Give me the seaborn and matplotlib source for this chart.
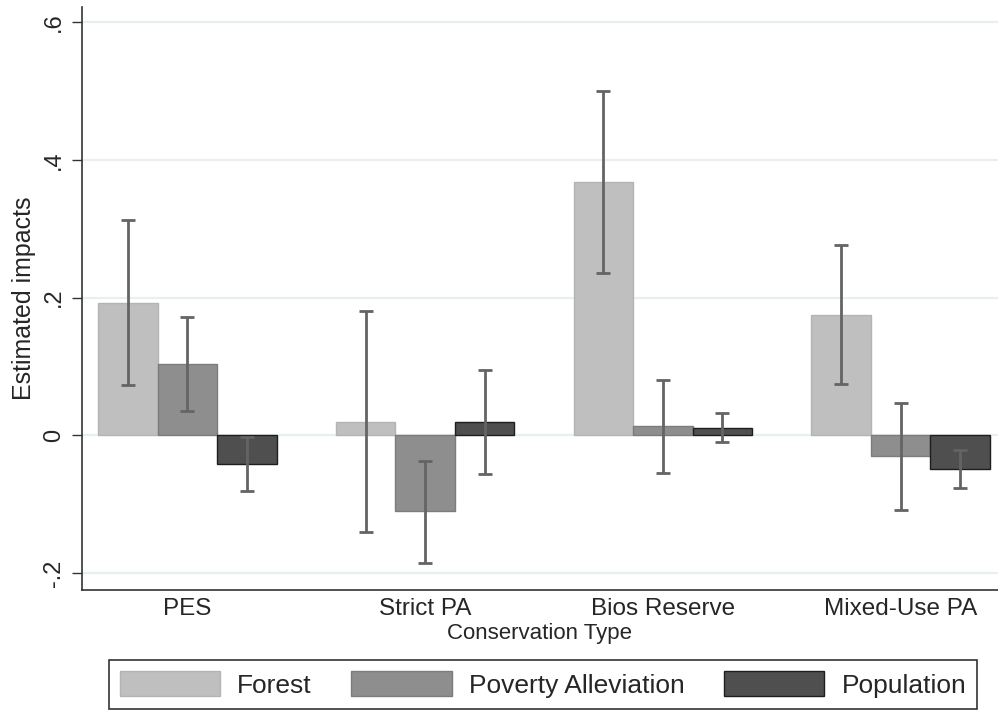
import numpy as np
import pandas as pd
import matplotlib
matplotlib.use("Agg")
import matplotlib.pyplot as plt
import seaborn as sns
from matplotlib.patches import Patch

# ---- data ----
categories = ["PES", "Strict PA", "Bios Reserve", "Mixed-Use PA"]
series = ["Forest", "Poverty Alleviation", "Population"]

forest = [0.192, 0.019, 0.368, 0.175]
forest_lo = [0.073, -0.141, 0.236, 0.075]
forest_hi = [0.312, 0.180, 0.500, 0.276]

poverty = [0.103, -0.110, 0.013, -0.030]
poverty_lo = [0.035, -0.185, -0.055, -0.108]
poverty_hi = [0.171, -0.037, 0.080, 0.047]

population = [-0.042, 0.019, 0.011, -0.049]
population_lo = [-0.081, -0.056, -0.010, -0.077]
population_hi = [-0.003, 0.095, 0.033, -0.022]

yticks = [-0.2, 0, 0.2, 0.4, 0.6]
ytick_labels = ["-.2", "0", ".2", ".4", ".6"]

# ---- build table ----
values = {"Forest": forest, "Poverty Alleviation": poverty, "Population": population}
lows = {"Forest": forest_lo, "Poverty Alleviation": poverty_lo, "Population": population_lo}
highs = {"Forest": forest_hi, "Poverty Alleviation": poverty_hi, "Population": population_hi}
rows = []
for s in series:
    for c, v in zip(categories, values[s]):
        rows.append({"Conservation Type": c, "series": s, "value": v})
df = pd.DataFrame(rows)

fills = {"Forest": "#bfbfbf", "Poverty Alleviation": "#8e8e8e", "Population": "#4f4f4f"}
edges = {"Forest": "#b4b4b4", "Poverty Alleviation": "#7c7c7c", "Population": "#1e1e1e"}
err_color = "#646464"

sns.set_theme(style="white")
plt.rcParams["font.family"] = ["Liberation Sans", "DejaVu Sans"]

fig = plt.figure(figsize=(9.98, 7.10), dpi=100)
ax = fig.add_axes([81.7 / 998, 1 - 590 / 710, (998 - 81.7) / 998, (590 - 7) / 710])

sns.barplot(data=df, x="Conservation Type", y="value", hue="series",
            order=categories, hue_order=series, palette=fills,
            errorbar=None, width=0.75, gap=0, saturation=1,
            legend=False, ax=ax, zorder=2)

for cont, s in zip(ax.containers, series):
    xs = []
    for bar in cont:
        bar.set_edgecolor(edges[s])
        bar.set_linewidth(1.0)
        xs.append(bar.get_x() + bar.get_width() / 2)
    v = np.array(values[s])
    lo = np.array(lows[s])
    hi = np.array(highs[s])
    ax.errorbar(xs, v, yerr=[v - lo, hi - v], fmt="none", ecolor=err_color,
                elinewidth=2.0, capsize=5.2, capthick=2.0, zorder=3)

ax.set_xlim(-0.445, 3.41)
ax.set_ylim(-0.2245, 0.6216)
ax.set_yticks(yticks)
ax.set_yticklabels(ytick_labels, rotation=90, va="center", fontsize=17)
ax.tick_params(axis="y", length=7, width=1.0, color="#333333", pad=5, left=True)
ax.tick_params(axis="x", length=0, pad=6, labelsize=17.5)

ax.yaxis.grid(True, color="#e8eff1", linewidth=1.6)
ax.xaxis.grid(False)
ax.set_axisbelow(True)

for side in ["top", "right"]:
    ax.spines[side].set_visible(False)
for side in ["left", "bottom"]:
    ax.spines[side].set_color("#333333")
    ax.spines[side].set_linewidth(1.2)

ax.set_ylabel("Estimated impacts", fontsize=18)
ax.yaxis.set_label_coords((36 - 81.7) / 916.3, 0.5)
ax.set_xlabel("Conservation Type", fontsize=16, va="center")
ax.xaxis.set_label_coords(0.5, -44 / 583)

handles = [Patch(facecolor=fills[s], edgecolor=edges[s], linewidth=1.0, label=s) for s in series]
leg = fig.legend(handles=handles, labels=series, loc="center", ncol=3,
                 bbox_to_anchor=(543 / 998, 1 - 684.5 / 710),
                 fontsize=19, handlelength=3.8, handleheight=1.05,
                 handletextpad=0.65, columnspacing=1.5, borderpad=0.42,
                 borderaxespad=0, frameon=True, fancybox=False, framealpha=1)
leg.get_frame().set_edgecolor("#333333")
leg.get_frame().set_linewidth(1.2)

fig.savefig("out.png", dpi=100, facecolor="white")
